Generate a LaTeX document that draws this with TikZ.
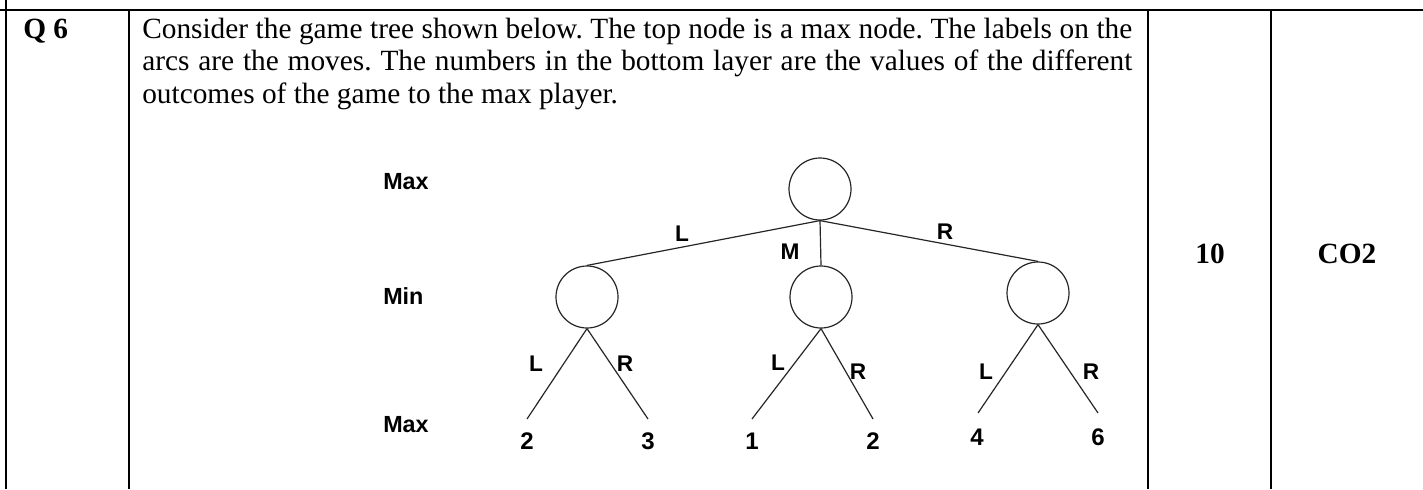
\documentclass[tikz,border=0pt]{standalone}
\usepackage{fontspec}
\setmainfont{Liberation Serif}
\newfontfamily\arial{Liberation Sans}
\frenchspacing
\begin{document}
\begin{tikzpicture}[x=0.75pt,y=-0.75pt,
  rule/.style={line width=1.6pt,black},
  body/.style={font=\fontsize{22}{25}\selectfont,inner sep=0pt},
  bodybold/.style={font=\fontsize{22}{25}\selectfont\bfseries,inner sep=0pt},
  state/.style={circle,draw=black!85,line width=0.9pt,minimum size=46.5pt,inner sep=0pt},
  arc/.style={draw=black!85,line width=0.9pt},
  lvl/.style={font=\arial\bfseries\fontsize{17.5}{20}\selectfont,inner sep=0pt,anchor=west},
  mv/.style={font=\arial\bfseries\fontsize{17}{20}\selectfont,inner sep=0pt},
  leaf/.style={font=\arial\bfseries\fontsize{18}{20}\selectfont,inner sep=0pt}]
\useasboundingbox (0,0) rectangle (1423,489);
% table rules
\coordinate (tl) at (0,10); \coordinate (tr) at (1423,10);
\coordinate (v0a) at (6,0); \coordinate (v0b) at (6,489);
\coordinate (v1a) at (129,10); \coordinate (v1b) at (129,489);
\coordinate (v2a) at (1148,10); \coordinate (v2b) at (1148,489);
\coordinate (v3a) at (1271,10); \coordinate (v3b) at (1271,489);
\draw[rule] (tl) -- (tr);
\draw[rule] (v0a) -- (v0b);
\draw[rule] (v1a) -- (v1b);
\draw[rule] (v2a) -- (v2b);
\draw[rule] (v3a) -- (v3b);
% cells
\node[bodybold,anchor=base west] (q) at (23,38) {Q 6};
\node[body,anchor=base west] (l1) at (142,38) {\makebox[742.5pt][s]{Consider the game tree shown below. The top node is a max node. The labels on the}};
\node[body,anchor=base west] (l2) at (142,70.5) {\makebox[742.5pt][s]{arcs are the moves. The numbers in the bottom layer are the values of the different}};
\node[body,anchor=base west] (l3) at (142,103) {outcomes of the game to the max player.};
\node[bodybold,anchor=base] (marks) at (1210,263) {10};
\node[bodybold,anchor=base] (co) at (1347,263) {CO2};
% level labels
\node[lvl] (lmax1) at (383,182) {Max};
\node[lvl] (lmin) at (383,296) {Min};
\node[lvl] (lmax2) at (383,425) {Max};
% tree
\node[state] (root) at (820,189) {};
\node[state] (a) at (587,297) {};
\node[state] (b) at (821,297) {};
\node[state] (c) at (1038,293) {};
\draw[arc] (root.south) -- (a.north);
\draw[arc] (root.south) -- (b.north);
\draw[arc] (root.south) -- (c.north);
\node[mv] (mL) at (682,234) {L};
\node[mv] (mM) at (790,252) {M};
\node[mv] (mR) at (945,232) {R};
% leaves
\coordinate (e1) at (527,419); \coordinate (e2) at (648,419);
\coordinate (e3) at (752,419); \coordinate (e4) at (873,419);
\coordinate (e5) at (978,413); \coordinate (e6) at (1098,413);
\draw[arc] (a.south) -- (e1);
\draw[arc] (a.south) -- (e2);
\draw[arc] (b.south) -- (e3);
\draw[arc] (b.south) -- (e4);
\draw[arc] (c.south) -- (e5);
\draw[arc] (c.south) -- (e6);
\node[mv] (aL) at (536,364) {L};
\node[mv] (aR) at (625,364) {R};
\node[mv] (bL) at (778,363) {L};
\node[mv] (bR) at (858,372) {R};
\node[mv] (cL) at (986,372) {L};
\node[mv] (cR) at (1091,372) {R};
\node[leaf] (v1) at (527,441) {2};
\node[leaf] (v2) at (648,441) {3};
\node[leaf] (v3) at (752,441) {1};
\node[leaf] (v4) at (873,441) {2};
\node[leaf] (v5) at (977,437) {4};
\node[leaf] (v6) at (1098,437) {6};
\end{tikzpicture}
\end{document}
